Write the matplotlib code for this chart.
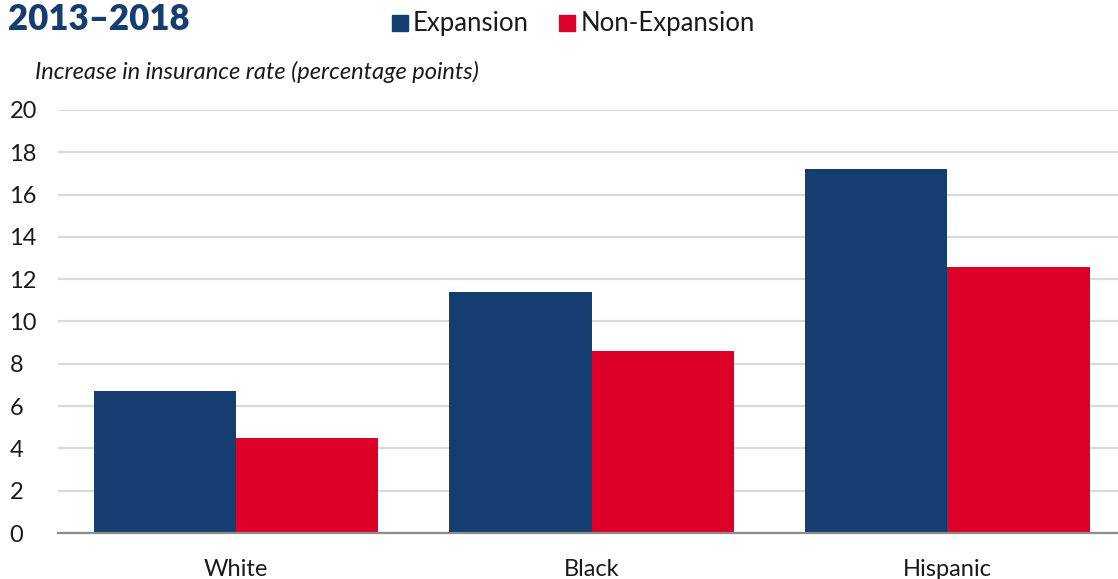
import matplotlib.pyplot as plt
import numpy as np

groups = ["White", "Black", "Hispanic"]
expansion = [6.7, 11.4, 17.2]
non_expansion = [4.5, 8.6, 12.6]
yticks = [0, 2, 4, 6, 8, 10, 12, 14, 16, 18, 20]

navy = "#153d6f"
red = "#dc0028"

plt.rcParams["font.family"] = ["Lato", "DejaVu Sans"]

fig = plt.figure(figsize=(11.18, 5.79), dpi=100)
ax = fig.add_axes([58 / 1118, 46 / 579, 1 - 58 / 1118, 423 / 579])

x = np.arange(len(groups))
w = 0.4
ax.bar(x - w / 2, expansion, w, color=navy, zorder=3)
ax.bar(x + w / 2, non_expansion, w, color=red, zorder=3)

ax.set_xlim(-0.5, 2.48)
ax.set_ylim(0, 20)
ax.set_yticks(yticks)
ax.set_xticks(x)
ax.set_xticklabels(groups)
ax.tick_params(axis="both", length=0, labelsize=17, colors="#1a1a1a")
ax.tick_params(axis="y", pad=35)
ax.tick_params(axis="x", pad=19)
for lbl in ax.get_yticklabels():
    lbl.set_horizontalalignment("left")
ax.yaxis.grid(True, color="#d9d9d9", linewidth=1.6, zorder=0)
for s in ["top", "right", "left"]:
    ax.spines[s].set_visible(False)
ax.spines["bottom"].set_color("#8c8c8c")
ax.spines["bottom"].set_linewidth(1.6)
ax.spines["bottom"].set_zorder(4)

fig.text(8 / 1118, 1 - 20 / 579, "2013\u20132018", fontsize=25, fontweight="heavy",
         color=navy, va="center", ha="left")
fig.text(35 / 1118, 1 - 72 / 579, "Increase in insurance rate (percentage points)",
         fontsize=17, style="italic", color="#1a1a1a", va="center", ha="left")

# legend drawn as squares + labels in the header
fig.patches.append(plt.Rectangle((392 / 1118, 1 - 31 / 579), 16 / 1118, 16 / 579,
                                 transform=fig.transFigure, color=navy))
fig.text(413 / 1118, 1 - 23 / 579, "Expansion", fontsize=18.5, va="center", ha="left",
         color="#1a1a1a")
fig.patches.append(plt.Rectangle((559 / 1118, 1 - 31 / 579), 16 / 1118, 16 / 579,
                                 transform=fig.transFigure, color=red))
fig.text(581 / 1118, 1 - 23 / 579, "Non-Expansion", fontsize=18.5, va="center", ha="left",
         color="#1a1a1a")

fig.savefig("out.png", dpi=100)
